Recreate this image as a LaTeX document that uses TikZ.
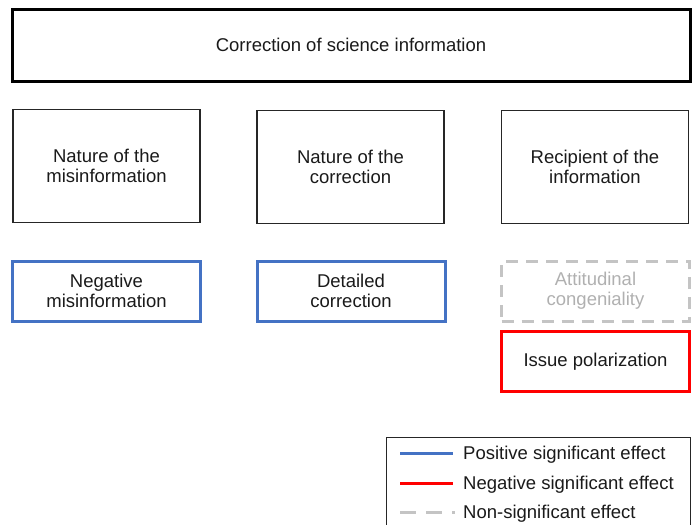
\documentclass[tikz,border=0pt]{standalone}
\usepackage{fontspec}
\setmainfont{Liberation Sans}
\definecolor{txt}{HTML}{1A1A1A}
\definecolor{posblue}{HTML}{4472C4}
\definecolor{negred}{HTML}{FF0000}
\definecolor{nsgray}{HTML}{C4C4C4}
\definecolor{nstext}{HTML}{B0B0B0}
\tikzset{
  lbl/.style={font=\fontsize{18.5}{20}\selectfont, text=txt, align=center, inner sep=0pt},
  topbox/.style={draw=black, line width=3pt, minimum width=678pt, minimum height=72pt, lbl},
  catbox/.style={draw=black!85, line width=1.1pt, minimum width=187pt, minimum height=113pt, lbl},
  posbox/.style={draw=posblue, line width=3pt, minimum width=188pt, minimum height=60pt, lbl},
  negbox/.style={draw=negred, line width=3pt, minimum width=188pt, minimum height=60pt, lbl},
  nsbox/.style={draw=nsgray, line width=3pt, dash pattern=on 12pt off 8pt, minimum width=188pt, minimum height=60pt, lbl, text=nstext},
  legline/.style={line width=3pt},
  legtext/.style={lbl, anchor=west}
}
\begin{document}
\begin{tikzpicture}[x=1pt,y=-1pt]
\useasboundingbox (0,0) rectangle (694,525);
\node[topbox] (top) at (351,45) {Correction of science information};
\node[catbox] (c1) at (106.5,166) {Nature of the\\misinformation};
\node[catbox] (c2) at (350.5,167) {Nature of the\\correction};
\node[catbox] (c3) at (595,167) {Recipient of the\\information};
\node[posbox] (p1) at (106.5,291) {Negative\\misinformation};
\node[posbox] (p2) at (351,291) {Detailed\\correction};
\node[nsbox] (n3) at (595.5,291) {Attitudinal\\congeniality};
\node[negbox] (r3) at (595.5,361.5) {Issue polarization};
% legend
\node[draw=black!85, line width=1pt, minimum width=304pt, minimum height=120pt, anchor=north west, inner sep=0pt] (leg) at (386,437) {};
\coordinate (b1) at (400,453); \coordinate (b2) at (453,453);
\coordinate (r1) at (400,483); \coordinate (r2) at (453,483);
\coordinate (g1) at (400,512); \coordinate (g2) at (455,512);
\draw[legline, posblue] (b1) -- (b2);
\draw[legline, negred] (r1) -- (r2);
\draw[legline, nsgray, dash pattern=on 16pt off 10pt] (g1) -- (g2);
\node[legtext] (lb) at (463,454.5) {Positive significant effect};
\node[legtext] (lr) at (463,484.5) {Negative significant effect};
\node[legtext] (lg) at (463,513.5) {Non-significant effect};
\end{tikzpicture}
\end{document}
